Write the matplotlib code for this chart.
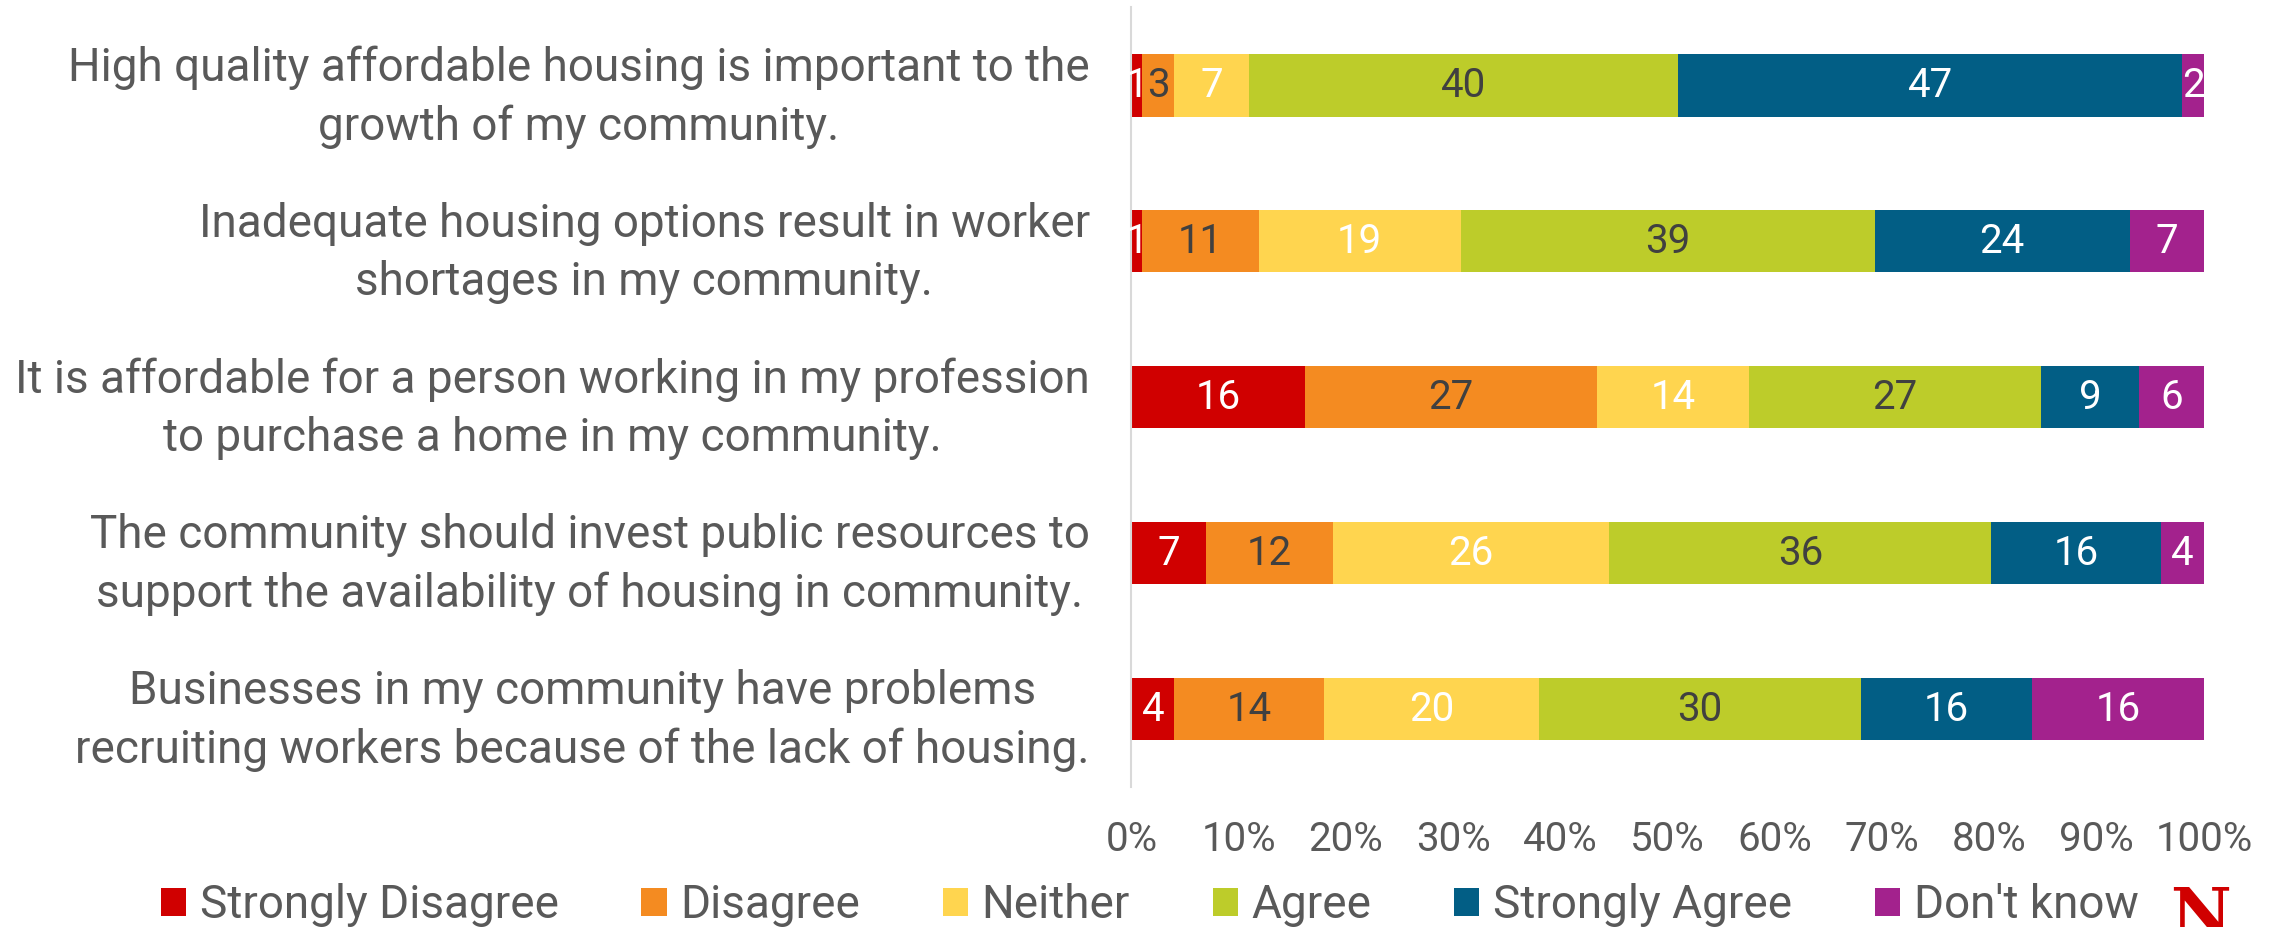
import matplotlib
matplotlib.use("Agg")
import matplotlib.pyplot as plt
import numpy as np

plt.rcParams['font.family'] = ['Roboto', 'DejaVu Sans']

statements = [
    "High quality affordable housing is important to the\ngrowth of my community.",
    "Inadequate housing options result in worker\nshortages in my community.",
    "It is affordable for a person working in my profession\nto purchase a home in my community.",
    "The community should invest public resources to\nsupport the availability of housing in community.",
    "Businesses in my community have problems\nrecruiting workers because of the lack of housing.",
]
responses = ["Strongly Disagree", "Disagree", "Neither", "Agree", "Strongly Agree", "Don't know"]

strongly_disagree = [1, 1, 16, 7, 4]
disagree = [3, 11, 27, 12, 14]
neither = [7, 19, 14, 26, 20]
agree = [40, 39, 27, 36, 30]
strongly_agree = [47, 24, 9, 16, 16]
dont_know = [2, 7, 6, 4, 16]

colors = ["#D00000", "#F48B21", "#FFD54F", "#BDCC2A", "#025E85", "#A3228D"]
label_colors = ["white", "#404040", "white", "#404040", "white", "white"]

series = np.array([strongly_disagree, disagree, neither, agree, strongly_agree, dont_know], dtype=float)
# 100% stacked: normalise each statement to its total
shares = series / series.sum(axis=0) * 100

fig = plt.figure(figsize=(22.72, 9.27), dpi=100)
ax = fig.add_axes([0.498, 0.151, 0.472, 0.841])

y = np.arange(len(statements))
left = np.zeros(len(statements))
for i, name in enumerate(responses):
    bars = ax.barh(y, shares[i], left=left, height=0.4, color=colors[i], label=name)
    for j, b in enumerate(bars):
        ax.text(left[j] + shares[i][j] / 2, y[j], f"{int(series[i][j])}",
                ha='center', va='center', fontsize=29, color=label_colors[i])
    left += shares[i]

ax.set_ylim(len(statements) - 0.5, -0.5)
ax.set_xlim(0, 100)
ax.set_yticks(y)
ax.set_yticklabels(statements, fontsize=33, color="#595959", multialignment='center',
                   linespacing=1.4)
ax.set_xticks(np.arange(0, 101, 10))
ax.set_xticklabels([f"{v}%" for v in range(0, 101, 10)], fontsize=29, color="#595959")
ax.tick_params(axis='y', length=0, pad=30)
ax.tick_params(axis='x', length=0, pad=24)
for s in ["top", "right", "bottom"]:
    ax.spines[s].set_visible(False)
ax.spines["left"].set_color("#D9D9D9")
ax.spines["left"].set_linewidth(1.5)

fig.legend(loc='lower center', bbox_to_anchor=(0.506, -0.045), ncol=6, frameon=False,
           fontsize=33, labelcolor="#595959", handlelength=0.55, handleheight=0.55,
           handletextpad=0.3, columnspacing=1.8)

# partial "N" logo at the bottom right corner
fig.text(0.955, -0.025, "N", fontsize=48, fontweight='bold', family='DejaVu Serif',
         color="#D00000", ha='left', va='bottom')

fig.savefig("out.png", dpi=100)
